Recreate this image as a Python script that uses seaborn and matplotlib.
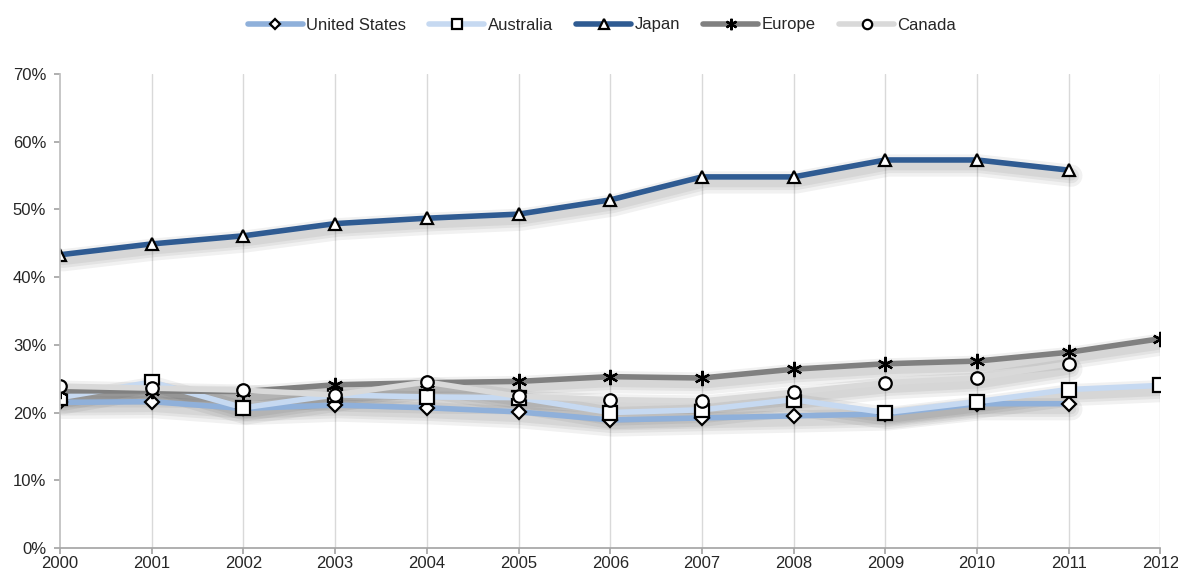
import numpy as np
import pandas as pd
import matplotlib
matplotlib.use("Agg")
import matplotlib.pyplot as plt
import matplotlib.transforms as mtransforms
import seaborn as sns

years = list(range(2000, 2013))
united_states = [21.5, 21.6, 20.6, 21.1, 20.7, 20.1, 18.9, 19.2, 19.5, 19.8, 21.3, 21.3, np.nan]
australia = [22.2, 24.5, 20.7, 22.6, 22.3, 22.2, 20.0, 20.4, 21.9, 20.0, 21.6, 23.4, 24.0]
japan = [43.3, 44.9, 46.1, 47.9, 48.7, 49.3, 51.4, 54.8, 54.8, 57.3, 57.3, 55.8, np.nan]
europe = [23.2, 23.2, 23.1, 24.1, 24.4, 24.6, 25.3, 25.1, 26.4, 27.2, 27.6, 28.9, 30.9]
canada = [23.9, 23.6, 23.3, 22.6, 24.5, 22.4, 21.9, 21.7, 23.0, 24.4, 25.1, 27.2, np.nan]

series = ["United States", "Australia", "Japan", "Europe", "Canada"]
values = [united_states, australia, japan, europe, canada]
colors = ["#8FB0DA", "#C6D9F1", "#2F5B92", "#808080", "#D9D9D9"]
markers = ["D", "s", "^", (6, 2, 0), "o"]
msizes = [7, 10, 9, 11, 9]

sns.set_theme(style="white")
plt.rcParams["font.family"] = ["Liberation Sans Narrow", "Liberation Sans", "DejaVu Sans"]

fig = plt.figure(figsize=(11.78, 5.78), dpi=100)
ax = fig.add_axes([0.051, 0.052, 0.934, 0.820])

shadow_tr = mtransforms.offset_copy(ax.transData, fig=fig, x=2, y=-4, units="points")

handles = []
for name, vals, c, m, ms in zip(series, values, colors, markers, msizes):
    df = pd.DataFrame({"year": years, "share": vals}).dropna()
    # soft drop shadow built from a few wide translucent strokes
    for lw in (16, 11, 7):
        ax.plot(df["year"], df["share"], color="black", alpha=0.055, linewidth=lw,
                solid_capstyle="round", solid_joinstyle="round", transform=shadow_tr, zorder=1)
    sns.lineplot(data=df, x="year", y="share", ax=ax, color=c, linewidth=4,
                 marker=m, markersize=ms, markerfacecolor="white",
                 markeredgecolor="black", markeredgewidth=1.6, zorder=2)
    handles.append(ax.lines[-1])

ax.set_xlim(2000, 2012)
ax.set_ylim(0, 70)
ax.set_xticks(years)
ax.set_yticks(range(0, 71, 10))
ax.set_yticklabels([f"{v}%" for v in range(0, 71, 10)])
ax.set_xlabel("")
ax.set_ylabel("")
ax.grid(False)
for yr in years[1:]:
    ax.axvline(yr, color="#D9D9D9", linewidth=1, zorder=0)
for s in ["top", "right"]:
    ax.spines[s].set_visible(False)
ax.spines["left"].set_color("#BFBFBF")
ax.spines["bottom"].set_color("#A6A6A6")
ax.tick_params(axis="both", which="both", length=4, color="#A6A6A6",
               labelsize=12, labelcolor="#262626", left=True, bottom=True, direction="out")
ax.tick_params(axis="x", pad=2)
ax.tick_params(axis="y", pad=6)

fig.legend(handles, series, loc="center", bbox_to_anchor=(0.511, 1 - 25 / 578), ncol=5,
           frameon=False, fontsize=12, handlelength=3.3, columnspacing=1.4,
           handletextpad=0.2, markerscale=0.75)

fig.savefig("out.png", dpi=100)
